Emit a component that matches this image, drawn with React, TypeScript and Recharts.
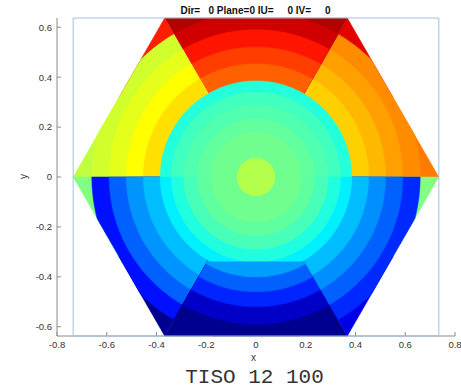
import React from "react"
import { ScatterChart, Scatter, XAxis, YAxis, Polygon } from "recharts"

const xTicks = [-0.8, -0.6, -0.4, -0.2, 0, 0.2, 0.4, 0.6, 0.8]
const yTicks = [-0.6, -0.4, -0.2, 0, 0.2, 0.4, 0.6]

// hexagon circumradius (vertex at 0, 60, ... deg)
const hexRadius = 0.735
// start angle of each 60 deg sector, ccw from +x
const sectorStarts = [0, 60, 120, 180, 240, 300]
// outer edge of each ring in a sector, inner -> outer
const ringEdges = [
  [0.453, 0.521, 0.59, 0.66],
  [0.453, 0.521, 0.59, 0.66],
  [0.453, 0.521, 0.59, 0.66],
  [0.453, 0.521, 0.59, 0.66],
  [0.4, 0.46, 0.52, 0.59, 0.66],
  [0.453, 0.521, 0.59, 0.66],
]
// field value of each ring, inner -> outer
const sectorValues = [
  [0.671, 0.695, 0.718, 0.738],
  [0.78, 0.815, 0.855, 0.92],
  [0.655, 0.625, 0.6, 0.58],
  [0.31, 0.27, 0.22, 0.14],
  [0.28, 0.22, 0.16, 0.07, 0.015],
  [0.31, 0.265, 0.22, 0.165],
]
// corner cells past the last ring: [next to start vertex, next to end vertex]
const cornerValues = [
  [0.755, 0.9],
  [0.95, 0.95],
  [0.845, 0.5625],
  [0.5, 0.015],
  [0.015, 0.015],
  [0.1, 0.5],
]
// the bottom assembly's inner edge is a flat chord
const bottomChord = 0.34
// inner circle rings, outer -> inner, upper and lower half
const coreRadii = [0.385, 0.34, 0.29, 0.235, 0.18, 0.076]
const coreUpper = [0.41, 0.4375, 0.453, 0.47, 0.485, 0.55]
const coreLower = [0.36, 0.405, 0.445, 0.468, 0.485, 0.55]

const clamp = (v: number) => Math.max(0, Math.min(1, v))
const jet = (v: number) => {
  const r = clamp(1.5 - Math.abs(4 * v - 3))
  const g = clamp(1.5 - Math.abs(4 * v - 2))
  const b = clamp(1.5 - Math.abs(4 * v - 1))
  const h = (c: number) => Math.round(c * 255).toString(16).padStart(2, "0")
  return `#${h(r)}${h(g)}${h(b)}`
}

const rad = (d: number) => (d * Math.PI) / 180
// distance from centre to the hexagon edge along a direction
const hexDist = (deg: number) => {
  const local = (((deg % 60) + 60) % 60) - 30
  return (hexRadius * Math.cos(rad(30))) / Math.cos(rad(local))
}

const arc = (a0: number, a1: number, r: number) => {
  const steps = Math.max(2, Math.ceil(Math.abs(a1 - a0) * 2))
  const pts = []
  for (let i = 0; i <= steps; i++) {
    const a = a0 + ((a1 - a0) * i) / steps
    const d = Math.min(r, hexDist(a))
    pts.push({ x: d * Math.cos(rad(a)), y: d * Math.sin(rad(a)) })
  }
  return pts
}
const wedge = (a0: number, a1: number, r: number) => [{ x: 0, y: 0 }, ...arc(a0, a1, r)]

type Cell = { points: { x: number; y: number }[]; color: string }
const cells: Cell[] = []
sectorStarts.forEach((a0, s) => {
  const a1 = a0 + 60
  cells.push({ points: wedge(a0, a0 + 30, hexRadius), color: jet(cornerValues[s][0]) })
  cells.push({ points: wedge(a0 + 30, a1, hexRadius), color: jet(cornerValues[s][1]) })
  for (let k = sectorValues[s].length - 1; k >= 0; k--) {
    cells.push({ points: wedge(a0, a1, ringEdges[s][k]), color: jet(sectorValues[s][k]) })
  }
})
coreRadii.forEach((r, i) => {
  cells.push({ points: arc(0, 180, r), color: jet(coreUpper[i]) })
  cells.push({ points: arc(180, 360, r), color: jet(coreLower[i]) })
})
// patch of the bottom assembly that cuts into the inner circle
const chordX = bottomChord / Math.tan(rad(60))
cells.push({
  points: [{ x: -chordX, y: -bottomChord }, { x: chordX, y: -bottomChord }, ...arc(300, 240, ringEdges[4][0])],
  color: jet(sectorValues[4][0]),
})

const boxX = [-hexRadius, hexRadius, hexRadius, -hexRadius, -hexRadius]
const boxY = [0.637, 0.637, -0.637, -0.637, 0.637]
const box = boxX.map((x, i) => ({ x, y: boxY[i] }))

const noDot = () => <g />
const font = "'Liberation Sans', Arial, sans-serif"

export default function App() {
  return (
    <div style={{ position: "absolute", left: 0, top: 0, width: 461, height: 388, background: "#fff" }}>
      <ScatterChart width={461} height={388} margin={{ top: 18, right: 6, bottom: 0, left: 0 }}>
        <XAxis
          type="number"
          dataKey="x"
          domain={[-0.8, 0.8]}
          ticks={xTicks}
          height={52}
          tickSize={-4}
          tickMargin={9}
          stroke="#8a8a8a"
          tick={{ fill: "#333", fontSize: 9.5, fontFamily: font }}
          tickFormatter={(v: number) => String(v)}
        />
        <YAxis
          type="number"
          dataKey="y"
          domain={[-0.637, 0.637]}
          ticks={yTicks}
          width={57}
          tickSize={-4}
          tickMargin={9}
          stroke="#8a8a8a"
          tick={{ fill: "#333", fontSize: 9.5, fontFamily: font }}
          tickFormatter={(v: number) => String(v)}
        />
        {cells.map((c, i) => (
          <Scatter
            key={i}
            data={c.points}
            isAnimationActive={false}
            shape={noDot}
            lineType="joint"
            line={(p: any) => <Polygon points={p.points} fill={c.color} stroke={c.color} strokeWidth={0.5} />}
          />
        ))}
        <Scatter
          data={box}
          isAnimationActive={false}
          shape={noDot}
          lineType="joint"
          line={(p: any) => <Polygon points={p.points} fill="none" stroke="#9fc3e2" strokeWidth={1} />}
        />
      </ScatterChart>
      <div style={{ position: "absolute", left: 0, width: 461, top: 5, textAlign: "center", fontFamily: font, fontWeight: "bold", fontSize: 10, whiteSpace: "pre", color: "#111", paddingLeft: 50, boxSizing: "border-box" }}>
        {"Dir=   0 Plane=0 IU=     0 IV=     0"}
      </div>
      <div style={{ position: "absolute", left: 251, top: 352, fontFamily: font, fontSize: 10, color: "#333" }}>x</div>
      <div style={{ position: "absolute", left: 21, top: 171, fontFamily: font, fontSize: 10, color: "#333", transform: "rotate(-90deg)" }}>y</div>
      <div style={{ position: "absolute", left: 0, width: 461, top: 366, textAlign: "center", fontFamily: "'Liberation Mono', monospace", fontSize: 21, color: "#333", paddingLeft: 48, boxSizing: "border-box", whiteSpace: "pre" }}>
        TISO 12 100
      </div>
    </div>
  )
}
